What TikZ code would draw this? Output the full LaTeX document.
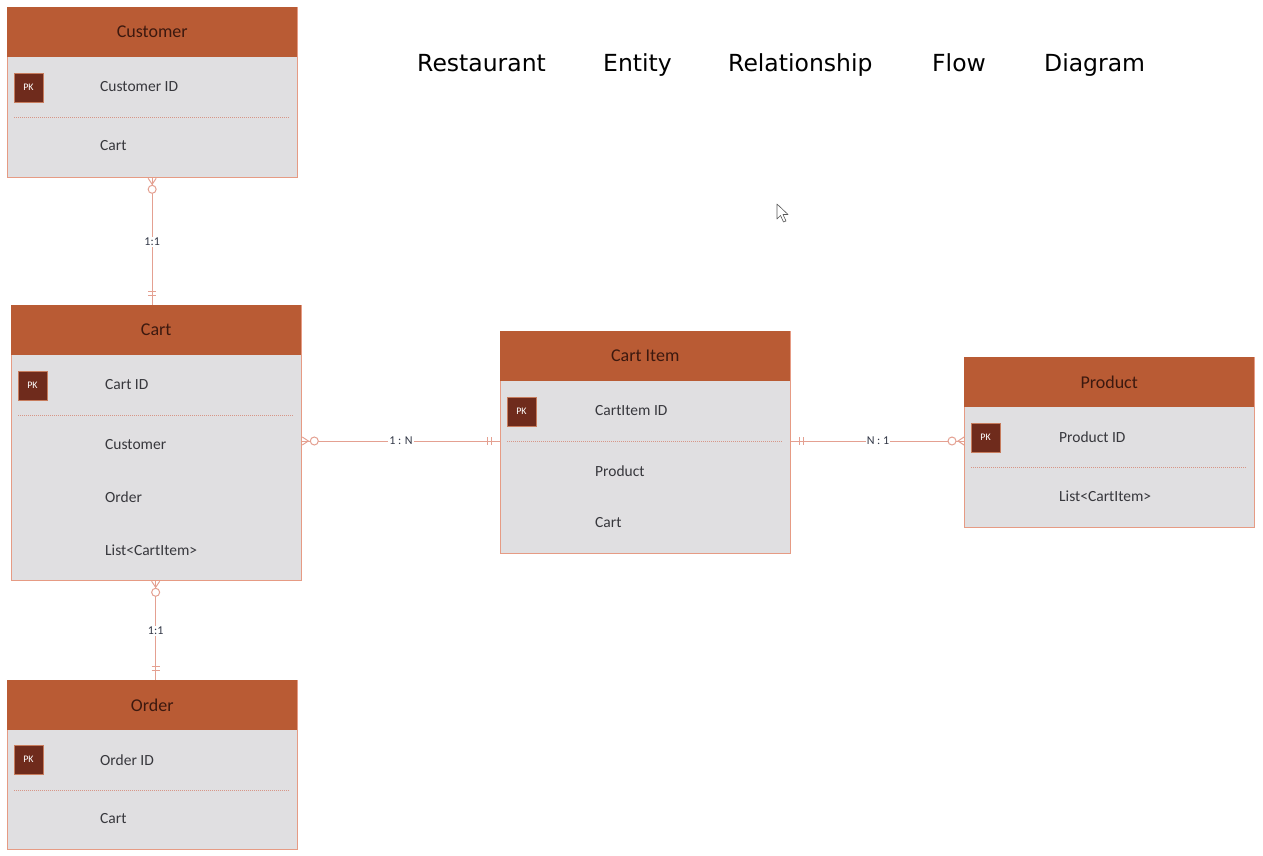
\documentclass[tikz,border=0pt]{standalone}
\usepackage{fontspec}
\setmainfont{Carlito}
\newfontfamily\titlefont{DejaVu Sans}
\usetikzlibrary{calc}
\definecolor{headc}{RGB}{185,91,52}
\definecolor{bodyc}{RGB}{224,223,225}
\definecolor{edgec}{RGB}{230,155,132}
\definecolor{pkc}{RGB}{111,43,28}
\definecolor{sepc}{RGB}{215,150,135}
\definecolor{htext}{RGB}{60,25,15}
\definecolor{btext}{RGB}{55,55,60}
\definecolor{relc}{RGB}{228,160,145}
\definecolor{lblc}{RGB}{50,55,70}
\tikzset{
  bodybox/.style={draw=edgec, line width=1.3pt, fill=bodyc, anchor=north west, inner sep=0pt},
  headbox/.style={fill=headc, anchor=north west, inner sep=0pt, minimum height=50pt, text=htext, font=\fontsize{18}{21}\selectfont},
  pkbox/.style={draw=headc!80, line width=0.8pt, fill=pkc, text=white, minimum width=29pt, minimum height=29pt, inner sep=0pt, font=\fontsize{10}{11}\selectfont},
  attr/.style={anchor=west, text=btext, inner sep=0pt, font=\fontsize{15.5}{17}\selectfont},
  sepline/.style={draw=sepc, line width=0.8pt, dash pattern=on 1pt off 1pt},
  rel/.style={draw=relc, line width=1pt},
  rellbl/.style={fill=white, text=lblc, inner sep=1pt, font=\fontsize{12}{13}\selectfont},
  titleword/.style={anchor=base west, inner sep=0pt, font=\titlefont\fontsize{23.5}{27}\selectfont},
}
\begin{document}
\begin{tikzpicture}[x=1pt,y=-1pt]
\useasboundingbox[fill=white] (0,0) rectangle (1263,855);

% Title
\node[titleword] (t1) at (417,71) {Restaurant};
\node[titleword] (t2) at (603,71) {Entity};
\node[titleword] (t3) at (728,71) {Relationship};
\node[titleword] (t4) at (932,71) {Flow};
\node[titleword] (t5) at (1044,71) {Diagram};

% Customer
\node[bodybox, minimum width=290pt, minimum height=170pt] (cust) at (7,7) {};
\node[headbox, minimum width=290pt] (custh) at (7,7) {Customer};
\node[pkbox] (custpk) at (28.5,87.5) {PK};
\node[attr] (custa1) at (100,87) {Customer ID};
\draw[sepline] (14,117) -- (289,117);
\node[attr] (custa2) at (100,146) {Cart};

% Cart
\node[bodybox, minimum width=290pt, minimum height=275pt] (cart) at (11,305) {};
\node[headbox, minimum width=290pt] (carth) at (11,305) {Cart};
\node[pkbox] (cartpk) at (32.5,385.5) {PK};
\node[attr] (carta1) at (105,385) {Cart ID};
\draw[sepline] (18,415) -- (293,415);
\node[attr] (carta2) at (105,445) {Customer};
\node[attr] (carta3) at (105,497) {Order};
\node[attr] (carta4) at (105,550) {List<CartItem>};

% Order
\node[bodybox, minimum width=290pt, minimum height=169pt] (ord) at (7,680) {};
\node[headbox, minimum width=290pt] (ordh) at (7,680) {Order};
\node[pkbox] (ordpk) at (28.5,759.5) {PK};
\node[attr] (orda1) at (100,760) {Order ID};
\draw[sepline] (14,790) -- (289,790);
\node[attr] (orda2) at (100,819) {Cart};

% Cart Item
\node[bodybox, minimum width=290pt, minimum height=222pt] (ci) at (500,331) {};
\node[headbox, minimum width=290pt] (cih) at (500,331) {Cart Item};
\node[pkbox] (cipk) at (521.5,411.5) {PK};
\node[attr] (cia1) at (595,411) {CartItem ID};
\draw[sepline] (507,441) -- (782,441);
\node[attr] (cia2) at (595,471) {Product};
\node[attr] (cia3) at (595,523) {Cart};

% Product
\node[bodybox, minimum width=290pt, minimum height=170pt] (prod) at (964,357) {};
\node[headbox, minimum width=290pt] (prodh) at (964,357) {Product};
\node[pkbox] (prodpk) at (985.5,437.5) {PK};
\node[attr] (proda1) at (1059,437) {Product ID};
\draw[sepline] (971,467) -- (1246,467);
\node[attr] (proda2) at (1059,496) {List<CartItem>};

% Customer -- Cart
\coordinate (r1a) at ([xshift=-0.5pt]cust.south);
\coordinate (r1b) at (r1a |- cart.north);
\draw[rel] (r1a) -- (r1b);
\draw[rel] ([xshift=-4pt]r1a) -- ([yshift=-6pt]r1a) -- ([xshift=4pt]r1a);
\draw[rel, fill=white] ([yshift=-11pt]r1a) circle (4pt);
\draw[rel] ([xshift=-4pt,yshift=10pt]r1b) -- ([xshift=4pt,yshift=10pt]r1b);
\draw[rel] ([xshift=-4pt,yshift=14pt]r1b) -- ([xshift=4pt,yshift=14pt]r1b);
\node[rellbl] (l1) at ($(r1a)!0.5!(r1b)$) {1:1};

% Cart -- Order
\coordinate (r2a) at ([xshift=-1pt]cart.south);
\coordinate (r2b) at (r2a |- ord.north);
\draw[rel] (r2a) -- (r2b);
\draw[rel] ([xshift=-4pt]r2a) -- ([yshift=-6pt]r2a) -- ([xshift=4pt]r2a);
\draw[rel, fill=white] ([yshift=-11pt]r2a) circle (4pt);
\draw[rel] ([xshift=-4pt,yshift=10pt]r2b) -- ([xshift=4pt,yshift=10pt]r2b);
\draw[rel] ([xshift=-4pt,yshift=14pt]r2b) -- ([xshift=4pt,yshift=14pt]r2b);
\node[rellbl] (l2) at ($(r2a)!0.5!(r2b)$) {1:1};

% Cart -- Cart Item
\coordinate (r3a) at (cart.east |- 0,441);
\coordinate (r3b) at (ci.west |- 0,441);
\draw[rel] (r3a) -- (r3b);
\draw[rel] ([yshift=4pt]r3a) -- ([xshift=6pt]r3a) -- ([yshift=-4pt]r3a);
\draw[rel, fill=white] ([xshift=12pt]r3a) circle (4pt);
\draw[rel] ([xshift=-9pt,yshift=4pt]r3b) -- ([xshift=-9pt,yshift=-4pt]r3b);
\draw[rel] ([xshift=-13pt,yshift=4pt]r3b) -- ([xshift=-13pt,yshift=-4pt]r3b);
\node[rellbl] (l3) at (401,441) {1 : N};

% Cart Item -- Product
\coordinate (r4a) at (ci.east |- 0,441);
\coordinate (r4b) at (prod.west |- 0,441);
\draw[rel] (r4a) -- (r4b);
\draw[rel] ([xshift=8pt,yshift=4pt]r4a) -- ([xshift=8pt,yshift=-4pt]r4a);
\draw[rel] ([xshift=12pt,yshift=4pt]r4a) -- ([xshift=12pt,yshift=-4pt]r4a);
\draw[rel] ([yshift=4pt]r4b) -- ([xshift=-6pt]r4b) -- ([yshift=-4pt]r4b);
\draw[rel, fill=white] ([xshift=-12pt]r4b) circle (4pt);
\node[rellbl] (l4) at (878,441) {N : 1};

% mouse cursor
\draw[gray!70!black, fill=white, line width=0.6pt, line join=round]
  (777,204) -- (777,219) -- (780.5,215.5) -- (783.5,222) -- (786,221) -- (783,214.5) -- (788,214.5) -- cycle;
\end{tikzpicture}
\end{document}
